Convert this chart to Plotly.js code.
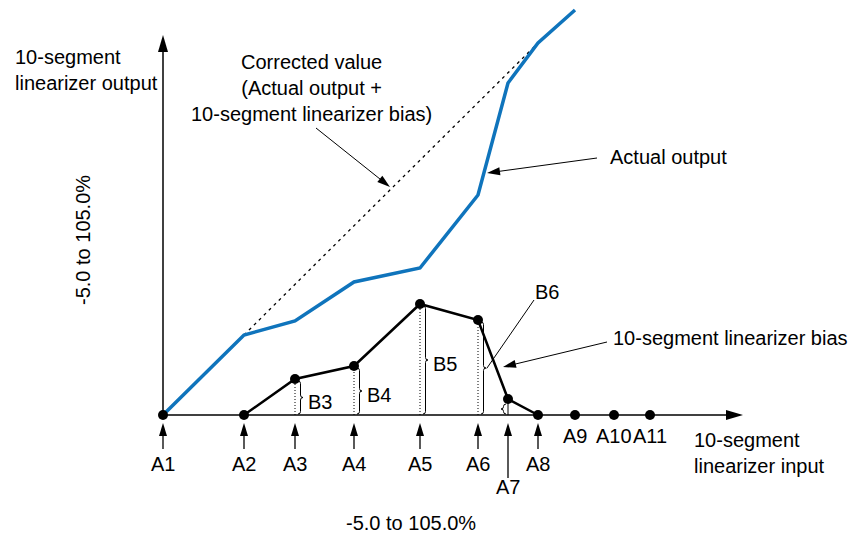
<!DOCTYPE html>
<html>
<head>
<meta charset="utf-8">
<script src="https://cdn.plot.ly/plotly-3.0.1.min.js"></script>
<style>html,body{margin:0;padding:0;background:#fff;}#chart{width:853px;height:536px;}</style>
</head>
<body>
<div id="chart"></div>
<script>
// ---- data (schematic units: x = input, y = output/bias) ----
const inputLabels = ['A1','A2','A3','A4','A5','A6','A7','A8','A9','A10','A11'];
const inputX      = [0, 81, 132, 191, 257, 315, 345, 375, 412, 451, 487];
const biasY       = [0, 0, 36, 49, 111, 95, 16, 0, 0, 0, 0];
const actualY     = [0, 80, 94, 133, 147, 220, 332, 372, 405]; // A1..A9
const correctedX  = [81, 375];
const correctedY  = [80, 372];
const biasLabels  = ['', '', 'B3', 'B4', 'B5', 'B6', '', '', '', '', ''];

const FONT = {family: 'Liberation Sans, Arial, sans-serif', size: 20, color: '#000'};
const BLUE = '#0f74bc';

// pixel helpers (1 data unit = 1 px; origin at pixel (163,415))
const PX = px => px - 163;
const PY = py => 415 - py;

const shapes = [];
const annotations = [];

function arrow(x0, y0, x1, y1, L, W, lw, head) {
  const dx = x1 - x0, dy = y1 - y0, len = Math.hypot(dx, dy);
  const ux = dx / len, uy = dy / len;
  const bx = x1 - ux * (head ? L : 0), by = y1 - uy * (head ? L : 0);
  shapes.push({type: 'line', xref: 'x', yref: 'y', x0: x0, y0: y0, x1: bx + ux * 0.5, y1: by + uy * 0.5,
               line: {color: '#000', width: lw}});
  if (head) {
    const px = -uy, py = ux;
    const p = `M${x1},${y1} L${bx + px * W / 2},${by + py * W / 2} L${bx - px * W / 2},${by - py * W / 2} Z`;
    shapes.push({type: 'path', xref: 'x', yref: 'y', path: p, fillcolor: '#000', line: {width: 0}});
  }
}
function brace(x, yt, yb, w) {
  const ym = (yt + yb) / 2;
  const p = `M${x},${yt} Q${x + w},${yt} ${x + w},${yt - Math.abs(w)} L${x + w},${ym + Math.abs(w)} ` +
            `Q${x + w},${ym} ${x + 2 * w},${ym} Q${x + w},${ym} ${x + w},${ym - Math.abs(w)} ` +
            `L${x + w},${yb + Math.abs(w)} Q${x + w},${yb} ${x},${yb}`;
  shapes.push({type: 'path', xref: 'x', yref: 'y', path: p, line: {color: '#000', width: 1}});
}
function text(t, x, y, opts) {
  annotations.push(Object.assign({text: t, x: x, y: y, xref: 'x', yref: 'y', showarrow: false,
                                  font: FONT, xanchor: 'center', yanchor: 'middle'}, opts || {}));
}

// axes with arrowheads
arrow(PX(163), 0, PX(743), 0, 17, 10, 1.5, true);
arrow(0, 0, 0, PY(35), 17, 10, 1.5, true);

// input point arrows + labels
inputLabels.forEach((lab, i) => {
  const x = inputX[i];
  if (i <= 7) {
    if (i === 6) {
      arrow(x, PY(478), x, PY(423), 13, 8, 1.3, true);
      text(lab, x, PY(487));
    } else {
      arrow(x, PY(449), x, PY(423), 13, 8, 1.3, true);
      text(lab, x, PY(464));
    }
  } else {
    text(lab, x, PY(436));
  }
});

// bias verticals + braces
for (let i = 2; i <= 6; i++) {
  const x = inputX[i], y = biasY[i];
  shapes.push({type: 'line', xref: 'x', yref: 'y', x0: x, y0: 0, x1: x, y1: y,
               line: {color: '#000', width: 1, dash: i === 6 ? 'solid' : '1px,2px'}});
  if (i === 6) {
    brace(x - 2, y - 5, 1, -2.5);
  } else {
    brace(x + 3, y - 2, 1, 2.5);
  }
  if (biasLabels[i] && i !== 5) {
    text(biasLabels[i], x + 11, (y - 1) / 2 - 4, {xanchor: 'left'});
  }
}

// text labels
text('10-segment<br>linearizer output', PX(13), PY(70), {xanchor: 'left', align: 'left'});
text('Corrected value<br>(Actual output +<br>10-segment linearizer bias)', PX(311), PY(88), {align: 'center'});
arrow(PX(316), PY(128), PX(390), PY(187), 13, 8, 1, true);
text('Actual output', PX(608), PY(157), {xanchor: 'left'});
arrow(PX(597), PY(158), PX(487), PY(173), 13, 8, 1, true);
text('B6', PX(547), PY(292));
arrow(PX(534), PY(300), PX(487), PY(368), 0, 0, 1, false);
text('10-segment linearizer bias', PX(611), PY(338), {xanchor: 'left'});
arrow(PX(607), PY(342), PX(503), PY(367), 13, 8, 1, true);
text('10-segment<br>linearizer input', PX(692), PY(453), {xanchor: 'left', align: 'left'});
text('-5.0 to 105.0%', PX(411), PY(523));
text('-5.0 to 105.0%', PX(83), PY(240), {textangle: -90});

const traces = [
  {x: correctedX, y: correctedY, mode: 'lines', line: {color: '#000', width: 1.3, dash: '3px,4px'}, hoverinfo: 'skip'},
  {x: inputX.slice(0, actualY.length), y: actualY, mode: 'lines', line: {color: BLUE, width: 3.5}, hoverinfo: 'skip'},
  {x: inputX.slice(1, 8), y: biasY.slice(1, 8), mode: 'lines', line: {color: '#000', width: 2.5}, hoverinfo: 'skip'},
  {x: inputX, y: biasY, mode: 'markers', marker: {color: '#000', size: 10}, cliponaxis: false, hoverinfo: 'skip'}
];

const layout = {
  width: 853, height: 536, autosize: false,
  margin: {l: 0, r: 0, t: 0, b: 0, pad: 0},
  paper_bgcolor: '#fff', plot_bgcolor: '#fff',
  showlegend: false,
  xaxis: {range: [-163, 690], visible: false, fixedrange: true},
  yaxis: {range: [-121, 415], visible: false, fixedrange: true},
  shapes: shapes, annotations: annotations, font: FONT
};
Plotly.newPlot('chart', traces, layout, {staticPlot: true, displayModeBar: false});
</script>
</body>
</html>
